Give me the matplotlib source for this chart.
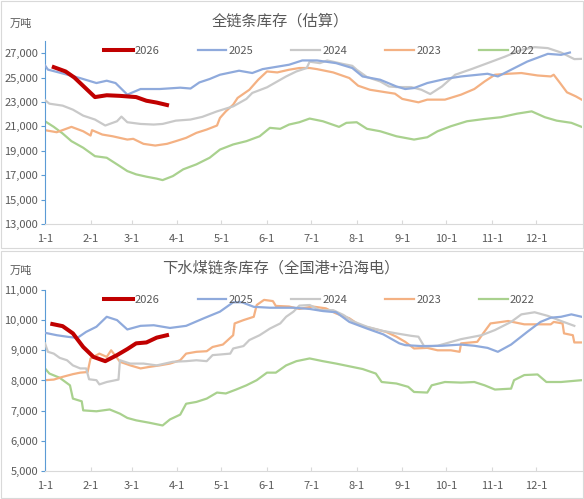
import matplotlib
matplotlib.use("Agg")
import matplotlib.pyplot as plt
from matplotlib.patches import Rectangle
from matplotlib.ticker import FuncFormatter

plt.rcParams['font.family'] = ['Noto Sans CJK SC', 'DejaVu Sans']

# x positions are day of year (0 = 1-1)
month_days = [0, 31, 59, 90, 120, 151, 181, 212, 243, 273, 304, 334]
month_labels = ["1-1", "2-1", "3-1", "4-1", "5-1", "6-1", "7-1", "8-1", "9-1", "10-1", "11-1", "12-1"]
years = ["2026", "2025", "2024", "2023", "2022"]

# ---- 全链条库存（估算）
top_2026_d = [6, 14, 20, 34, 42, 51, 62, 69, 76, 83]
top_2026_v = [25850, 25500, 25000, 23400, 23550, 23500, 23400, 23100, 22950, 22750]

top_2025_d = [0, 2, 10, 24, 35, 42, 48, 56, 65, 78, 92, 99, 105, 112, 119, 132, 141, 148, 166, 175,
              185, 198, 209, 216, 228, 239, 245, 251, 260, 272, 283, 301, 308, 317, 328, 342, 351, 357]
top_2025_v = [26000, 25650, 25400, 24950, 24550, 24740, 24550, 23600, 24060, 24060, 24170, 24100, 24600,
              24880, 25230, 25560, 25370, 25690, 26050, 26400, 26400, 26180, 25780, 25090, 24820, 24270,
              24060, 24140, 24550, 24880, 25090, 25310, 25090, 25640, 26310, 26940, 26860, 27050]

top_2024_d = [0, 3, 12, 19, 26, 34, 41, 49, 52, 56, 65, 74, 80, 89, 99, 107, 117, 128, 137, 141, 151,
              158, 164, 171, 178, 180, 187, 192, 202, 209, 212, 219, 228, 234, 239, 249, 256, 262, 270,
              279, 290, 301, 313, 324, 333, 342, 351, 360, 365]
top_2024_v = [23150, 22860, 22700, 22370, 21880, 21560, 21070, 21420, 21800, 21340, 21200, 21150, 21200,
              21470, 21560, 21780, 22230, 22640, 23250, 23740, 24200, 24680, 25090, 25500, 25780, 26300,
              26180, 26400, 26130, 25960, 25640, 25040, 24680, 24270, 24220, 24220, 24000, 23650, 24270,
              25230, 25690, 26180, 26720, 27270, 27490, 27410, 27050, 26510, 26530]

top_2023_d = [0, 8, 18, 26, 31, 32, 39, 46, 56, 60, 67, 75, 83, 89, 96, 103, 110, 117, 119, 123, 128,
              131, 139, 145, 151, 158, 166, 173, 180, 185, 196, 207, 213, 221, 232, 238, 243, 254, 260,
              272, 283, 292, 299, 306, 315, 324, 335, 344, 346, 350, 355, 361, 365]
top_2023_v = [20690, 20520, 20960, 20600, 20250, 20690, 20330, 20190, 19920, 19980, 19570, 19430, 19570,
              19790, 20060, 20470, 20740, 21070, 21690, 22230, 22780, 23330, 24000, 24820, 25500, 25420,
              25640, 25780, 25780, 25690, 25420, 24960, 24330, 24000, 23790, 23680, 23250, 22970, 23190,
              23190, 23600, 24060, 24680, 25230, 25310, 25370, 25170, 25090, 25230, 24600, 23790, 23460,
              23190]

top_2022_d = [0, 6, 12, 18, 26, 34, 42, 49, 56, 62, 69, 76, 80, 87, 94, 103, 112, 119, 128, 137, 146,
              153, 160, 166, 173, 180, 189, 200, 205, 212, 219, 228, 239, 251, 260, 267, 276, 287, 299,
              310, 321, 331, 340, 348, 358, 365]
top_2022_v = [21420, 20960, 20420, 19790, 19250, 18560, 18430, 17890, 17340, 17070, 16880, 16720, 16600,
              16930, 17480, 17890, 18430, 19100, 19520, 19790, 20190, 20880, 20800, 21150, 21340, 21640,
              21420, 20960, 21290, 21340, 20800, 20600, 20190, 19920, 20110, 20600, 21010, 21420, 21610,
              21750, 22040, 22230, 21750, 21470, 21290, 20960]

# ---- 下水煤链条库存（全国港+沿海电）
bot_2026_d = [5, 12, 19, 26, 33, 41, 49, 56, 62, 69, 76, 83]
bot_2026_v = [9870, 9800, 9560, 9110, 8780, 8640, 8840, 9040, 9230, 9260, 9420, 9500]

bot_2025_d = [0, 8, 15, 22, 28, 35, 42, 49, 56, 65, 74, 85, 96, 108, 119, 128, 134, 142, 153, 169, 180,
              189, 198, 207, 219, 230, 241, 245, 256, 270, 283, 292, 301, 308, 317, 328, 337, 344, 351,
              358, 365]
bot_2025_v = [9580, 9500, 9450, 9410, 9610, 9780, 10110, 10000, 9690, 9810, 9830, 9740, 9810, 10060,
              10280, 10590, 10590, 10440, 10410, 10410, 10370, 10300, 10260, 9940, 9720, 9530, 9230,
              9170, 9140, 9150, 9190, 9150, 9080, 8950, 9190, 9610, 9940, 10080, 10110, 10190, 10110]

bot_2024_d = [0, 2, 6, 10, 15, 19, 24, 28, 30, 35, 37, 42, 50, 51, 58, 67, 76, 87, 96, 103, 110, 114,
              119, 126, 128, 135, 139, 146, 153, 160, 164, 169, 173, 180, 187, 196, 203, 209, 219, 230,
              239, 249, 254, 258, 267, 283, 297, 306, 317, 324, 333, 342, 351, 360]
bot_2024_v = [9230, 8950, 8890, 8750, 8670, 8500, 8400, 8400, 8040, 8010, 7870, 7950, 8030, 8670, 8560,
              8560, 8500, 8620, 8640, 8670, 8640, 8840, 8860, 8890, 9060, 9140, 9340, 9500, 9720, 9890,
              10110, 10280, 10480, 10500, 10330, 10330, 10170, 9970, 9780, 9640, 9560, 9480, 9450, 9120,
              9150, 9370, 9500, 9670, 9940, 10190, 10260, 10140, 9970, 9810]

bot_2023_d = [0, 6, 12, 19, 24, 29, 31, 37, 42, 45, 51, 58, 65, 71, 78, 85, 92, 96, 103, 110, 114, 121,
              128, 129, 135, 142, 144, 149, 155, 157, 166, 173, 182, 191, 198, 207, 214, 223, 232, 239,
              245, 251, 260, 267, 276, 282, 283, 294, 298, 303, 315, 326, 335, 344, 346, 352, 353, 359,
              360, 365]
bot_2023_v = [8010, 8030, 8120, 8210, 8260, 8280, 8730, 8890, 8780, 9000, 8620, 8500, 8400, 8450, 8500,
              8560, 8670, 8890, 8950, 8970, 9110, 9190, 9500, 9890, 10000, 10110, 10500, 10670, 10630,
              10470, 10450, 10370, 10450, 10390, 10220, 10060, 9830, 9720, 9610, 9450, 9280, 9060, 9080,
              9000, 9000, 8950, 9230, 9280, 9560, 9890, 9970, 9860, 9860, 9860, 9940, 9890, 9560, 9500,
              9260, 9260]

bot_2022_d = [0, 3, 10, 17, 19, 25, 26, 35, 44, 51, 56, 62, 71, 80, 85, 92, 96, 103, 110, 117, 123, 130,
              137, 144, 151, 157, 164, 171, 180, 189, 198, 207, 216, 225, 229, 239, 247, 251, 260, 263,
              272, 283, 292, 299, 306, 317, 319, 326, 335, 341, 351, 365]
bot_2022_v = [8400, 8230, 8090, 7840, 7400, 7310, 7010, 6980, 7040, 6900, 6760, 6680, 6600, 6510, 6710,
              6870, 7230, 7290, 7400, 7600, 7570, 7700, 7840, 8010, 8260, 8260, 8500, 8640, 8730, 8640,
              8560, 8470, 8380, 8230, 7950, 7900, 7790, 7620, 7600, 7840, 7950, 7930, 7950, 7840, 7700,
              7730, 8010, 8180, 8200, 7950, 7950, 8010]

colors = {"2026": "#C00000", "2025": "#8FAADC", "2024": "#C9C9C9", "2023": "#F4B183", "2022": "#A9D18E"}
widths = {"2026": 2.9, "2025": 1.6, "2024": 1.6, "2023": 1.6, "2022": 1.6}
text_color = "#595959"

fig = plt.figure(figsize=(5.84, 4.99), dpi=100)

# chart area borders
for y0, h in [(0.503, 0.495), (0.002, 0.495)]:
    fig.patches.append(Rectangle((0.001, y0), 0.997, h, transform=fig.transFigure,
                                 fill=False, edgecolor="#D9D9D9", linewidth=0.8))

ax_top = fig.add_axes([0.077, 0.551, 0.919, 0.367])
ax_bot = fig.add_axes([0.077, 0.056, 0.919, 0.363])


def draw_panel(ax, series, title, ylim, yticks, title_y):
    for year, (d, v) in zip(years, series):
        ax.plot(d, v, color=colors[year], lw=widths[year], label=year,
                solid_joinstyle="round", zorder=10 if year == "2026" else 5 - years.index(year))

    ax.set_xlim(0, 365)
    ax.set_ylim(*ylim)
    ax.set_yticks(yticks)
    ax.yaxis.set_major_formatter(FuncFormatter(lambda x, p: f"{int(x):,}"))
    ax.set_xticks(month_days)
    ax.set_xticklabels(month_labels)

    for s in ["top", "right"]:
        ax.spines[s].set_visible(False)
    ax.spines["left"].set_color("#5B9BD5")
    ax.spines["bottom"].set_color("#D9D9D9")
    ax.tick_params(axis="y", colors="#5B9BD5", labelcolor=text_color, labelsize=8, length=3, pad=2)
    ax.tick_params(axis="x", colors="#D9D9D9", labelcolor=text_color, labelsize=8,
                   length=3, direction="in", pad=7)

    leg = ax.legend(loc="center", bbox_to_anchor=(0.511, 0.945), ncol=5, frameon=False,
                    fontsize=8, handlelength=2.6, handletextpad=0.2, columnspacing=3.4,
                    borderpad=0)
    for t in leg.get_texts():
        t.set_color(text_color)

    fig.text(0.48, title_y, title, ha="center", va="center", fontsize=11, color=text_color)
    fig.text(0.036, title_y - 0.005, "万吨", ha="center", va="center", fontsize=8, color=text_color)


draw_panel(ax_top,
           [(top_2026_d, top_2026_v), (top_2025_d, top_2025_v), (top_2024_d, top_2024_v),
            (top_2023_d, top_2023_v), (top_2022_d, top_2022_v)],
           "全链条库存（估算）", (13000, 28000), range(13000, 28000, 2000), 0.958)

draw_panel(ax_bot,
           [(bot_2026_d, bot_2026_v), (bot_2025_d, bot_2025_v), (bot_2024_d, bot_2024_v),
            (bot_2023_d, bot_2023_v), (bot_2022_d, bot_2022_v)],
           "下水煤链条库存（全国港+沿海电）", (5000, 11000), range(5000, 11001, 1000), 0.462)

fig.savefig("out.png", dpi=100)
